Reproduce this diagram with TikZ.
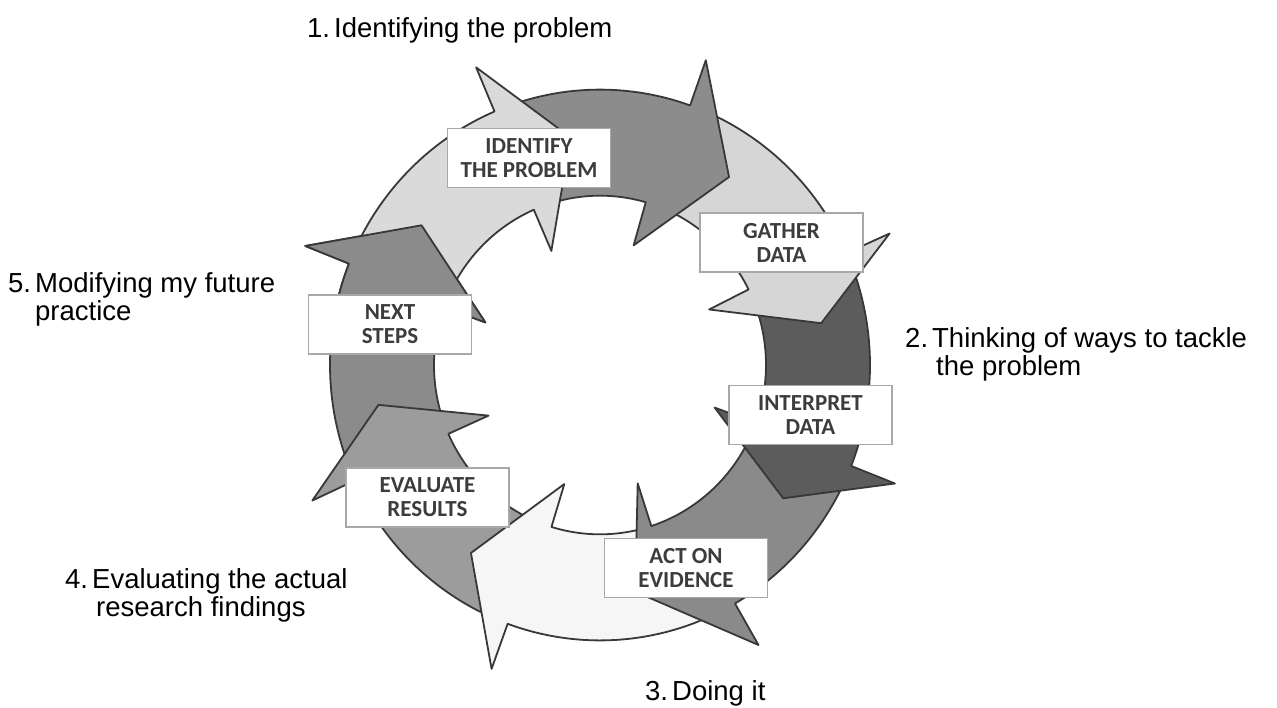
\documentclass[tikz,border=0pt]{standalone}
\usepackage{fontspec}
\setmainfont{Liberation Sans}
\newfontfamily\boxfont{Carlito}
\definecolor{ringedge}{HTML}{383838}
\definecolor{boxedge}{HTML}{A8A8A8}
\definecolor{boxtext}{HTML}{3C3C3C}
\definecolor{shadeA}{HTML}{DADADA}
\definecolor{shadeB}{HTML}{8C8C8C}
\definecolor{shadeC}{HTML}{D6D6D6}
\definecolor{shadeD}{HTML}{5C5C5C}
\definecolor{shadeE}{HTML}{8A8A8A}
\definecolor{shadeF}{HTML}{F6F6F6}
\definecolor{shadeG}{HTML}{9C9C9C}
\definecolor{shadeH}{HTML}{8B8B8B}
% ring and arrow-head radii
\def\ringout{270}
\def\ringin{166}
\def\spikeout{317}
\def\spikein{122}
\def\tipr{225}
% one curved arrow of the cycle:
% #1 fill, #2/#3 tail angle (outer/inner), #4/#5 head base angle (outer/inner), #6 tip angle
\newcommand\cyclearrow[6]{%
  \filldraw[ringline, fill=#1]
    (#2:\ringout) arc[start angle=#2, end angle=#4, radius=\ringout]
    -- (#4:\spikeout) -- (#6:\tipr) -- (#5:\spikein) -- (#5:\ringin)
    arc[start angle=#5, end angle=#3, radius=\ringin] -- cycle;}
\newcommand\numlabel[1]{\makebox[27pt][l]{#1}}
\begin{document}
\begin{tikzpicture}[x=1pt, y=-1pt,
  ringline/.style={draw=ringedge, line width=1.8pt, line join=round},
  stagebox/.style={draw=boxedge, line width=1.4pt, fill=white,
    minimum width=163pt, minimum height=59pt, inner sep=0pt, align=center,
    text=boxtext, font=\boxfont\bfseries\fontsize{23}{24}\selectfont},
  caption/.style={anchor=base west, inner sep=0pt, text=black,
    font=\fontsize{27.5}{27.5}\selectfont}]
\useasboundingbox (0,0) rectangle (1277,707);

% the cycle of eight curved arrows; each head lies over the tail of the next one
\begin{scope}[shift={(600,365)}, yscale=-1.02]
  \cyclearrow{shadeH}{201.8}{201}{158.4}{160}{142.5}
  \cyclearrow{shadeG}{-113}{-110}{-155.2}{-156}{-170}
  \cyclearrow{shadeF}{-65}{-73}{-110}{-107}{-125}
  \cyclearrow{shadeE}{-24.5}{-23}{-60}{-72}{-81}
  \cyclearrow{shadeD}{21}{23.5}{-21.5}{-20}{-35.5}
  \cyclearrow{shadeC}{67.5}{71}{24}{26.5}{10.5}
  \cyclearrow{shadeB}{110}{110.5}{70.5}{74}{55}
  \cyclearrow{shadeA}{155.4}{157}{113}{113.5}{97.5}
  % head of the last arrow over the tail of the first one
  \begin{scope}
    \clip (0,0) -- (136:420) -- (150:420) -- (165:420) -- cycle;
    \cyclearrow{shadeH}{201.8}{201}{158.4}{160}{142.5}
  \end{scope}
\end{scope}

% stage labels
\node[stagebox] (identify) at (529,158) {IDENTIFY\\THE PROBLEM};
\node[stagebox] (gather) at (781.5,242.5) {GATHER\\DATA};
\node[stagebox] (interpret) at (810.5,415) {INTERPRET\\DATA};
\node[stagebox] (act) at (686,568) {ACT ON\\EVIDENCE};
\node[stagebox] (evaluate) at (427.5,497.5) {EVALUATE\\RESULTS};
\node[stagebox] (next) at (390,324.5) {NEXT\\STEPS};

% numbered captions
\node[caption] (cap1) at (307,37) {\numlabel{1.}Identifying the problem};
\node[caption] (cap2) at (905,347) {\begin{tabular}[t]{@{}l@{}}\numlabel{2.}Thinking of ways to tackle\\\hspace*{31pt}the problem\end{tabular}};
\node[caption] (cap3) at (645,700) {\numlabel{3.}Doing it};
\node[caption] (cap4) at (65,588) {\begin{tabular}[t]{@{}l@{}}\numlabel{4.}Evaluating the actual\\\hspace*{31pt}research findings\end{tabular}};
\node[caption] (cap5) at (8,292) {\begin{tabular}[t]{@{}l@{}}\numlabel{5.}Modifying my future\\\hspace*{27pt}practice\end{tabular}};
\end{tikzpicture}
\end{document}
